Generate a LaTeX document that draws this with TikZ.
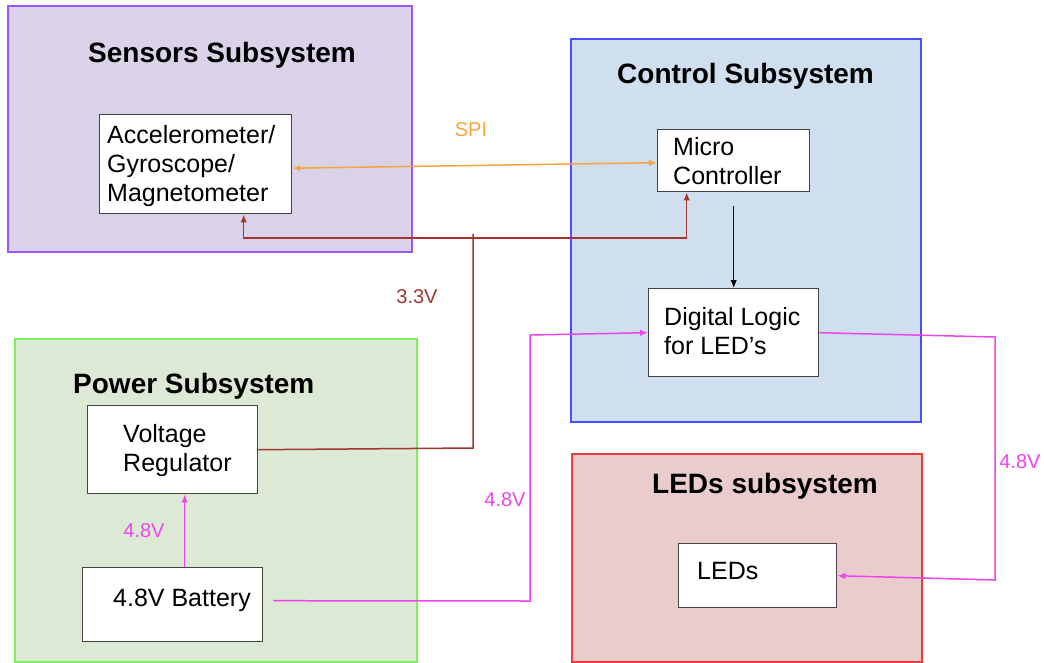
\documentclass[tikz,border=0pt]{standalone}
\usepackage{fontspec}
\setmainfont{Liberation Sans}
\usetikzlibrary{arrows.meta}

\definecolor{sensfill}{HTML}{D9D2E9}
\definecolor{sensline}{HTML}{9955FF}
\definecolor{ctrlfill}{HTML}{D0DFF0}
\definecolor{ctrlline}{HTML}{4C4CFF}
\definecolor{pwrfill}{HTML}{DCE9D4}
\definecolor{pwrline}{HTML}{7CF05A}
\definecolor{ledfill}{HTML}{EBCCCC}
\definecolor{ledline}{HTML}{EE3B3B}
\definecolor{boxline}{HTML}{444444}
\definecolor{spicol}{HTML}{F5A53E}
\definecolor{v33col}{HTML}{A2352E}
\definecolor{v48col}{HTML}{EE44EE}

\tikzset{
  subsys/.style={draw, line width=1.6pt, anchor=north west, inner sep=0pt},
  blockbox/.style={draw=boxline, fill=white, line width=1.4pt, anchor=north west, inner sep=0pt},
  title/.style={font=\fontsize{28}{32}\selectfont\bfseries, anchor=base west, inner sep=0pt},
  body/.style={font=\fontsize{25}{29}\selectfont, anchor=base west, inner sep=0pt, align=left},
  lbl/.style={font=\fontsize{20}{24}\selectfont, inner sep=0pt},
  tip/.style={-{Latex[length=8pt,width=6.5pt]}},
  spi/.style={draw=spicol, line width=1.5pt, {Latex[length=8pt,width=6.5pt]}-{Latex[length=8pt,width=6.5pt]}},
  v33/.style={draw=v33col, line width=1.5pt},
  v48/.style={draw=v48col, line width=1.5pt},
  ctl/.style={draw=black, line width=1.2pt},
}

\begin{document}
\begin{tikzpicture}[x=1pt, y=-1pt]
\useasboundingbox (0,0) rectangle (1044,662);

% subsystem panels
\node[subsys, draw=sensline, fill=sensfill, minimum width=404pt, minimum height=246pt] (sens) at (7,5) {};
\node[subsys, draw=ctrlline, fill=ctrlfill, minimum width=350pt, minimum height=383pt] (ctrl) at (570,38) {};
\node[subsys, draw=pwrline, fill=pwrfill, minimum width=402pt, minimum height=323pt] (pwr) at (14,338) {};
\node[subsys, draw=ledline, fill=ledfill, minimum width=350pt, minimum height=208pt] (ledsys) at (571,453) {};

\node[title] (senst) at (88,62) {Sensors Subsystem};
\node[title] (ctrlt) at (617,83) {Control Subsystem};
\node[title] (pwrt) at (73,393) {Power Subsystem};
\node[title] (ledt) at (652,493) {LEDs subsystem};

% component blocks
\node[blockbox, minimum width=192pt, minimum height=99pt] (acc) at (99,114) {};
\node[blockbox, minimum width=152pt, minimum height=62pt] (mcu) at (657,129) {};
\node[blockbox, minimum width=170pt, minimum height=88pt] (dl) at (648,288) {};
\node[blockbox, minimum width=170pt, minimum height=88pt] (reg) at (87,405) {};
\node[blockbox, minimum width=180pt, minimum height=74pt] (bat) at (82,567) {};
\node[blockbox, minimum width=158pt, minimum height=64pt] (leds) at (678,543) {};

\node[body] (acct1) at (107,143) {Accelerometer/};
\node[body] (acct2) at (107,172) {Gyroscope/};
\node[body] (acct3) at (107,201) {Magnetometer};
\node[body] (mcut1) at (673,155) {Micro};
\node[body] (mcut2) at (673,184) {Controller};
\node[body] (dlt1) at (664,325) {Digital Logic};
\node[body] (dlt2) at (664,354) {for LED’s};
\node[body] (regt1) at (123,442) {Voltage};
\node[body] (regt2) at (123,471) {Regulator};
\node[body] (batt) at (113,606) {4.8V Battery};
\node[body] (ledst) at (697,579) {LEDs};

% SPI link
\draw[spi] ([yshift=-4pt]acc.east) -- ([yshift=-2pt]mcu.west);
\node[lbl, text=spicol] (spil) at (471,130) {SPI};

% 3.3V rail
\coordinate (tap) at (473,448);
\coordinate (rail) at (473,238);
\draw[v33] (reg.east) -- (tap) -- ([yshift=4pt]rail);
\draw[v33, tip] (rail) -| ([xshift=48pt]acc.south);
\draw[v33, tip] (rail) -| ([xshift=-47pt]mcu.south);
\node[lbl, text=v33col] (v33l) at (417,297) {3.3V};

% control to LED logic
\draw[ctl, tip] ([yshift=-14pt]mcu.south) -- (dl.north);

% 4.8V supply lines
\coordinate (b1) at (530,601);
\coordinate (b2) at (530,335);
\draw[v48, tip] ([xshift=10pt,yshift=4pt]bat.east) -- (b1) -- (b2) -- (dl.west);
\node[lbl, text=v48col] (v48a) at (505,500) {4.8V};

\coordinate (d1) at (995,337);
\coordinate (d2) at (995,580);
\draw[v48, tip] (dl.east) -- (d1) -- (d2) -- (leds.east);
\node[lbl, text=v48col] (v48b) at (1020,462) {4.8V};

\draw[v48, tip] ([xshift=12pt]bat.north) -- ([xshift=12pt]reg.south);
\node[lbl, text=v48col] (v48c) at (144,531) {4.8V};
\end{tikzpicture}
\end{document}
